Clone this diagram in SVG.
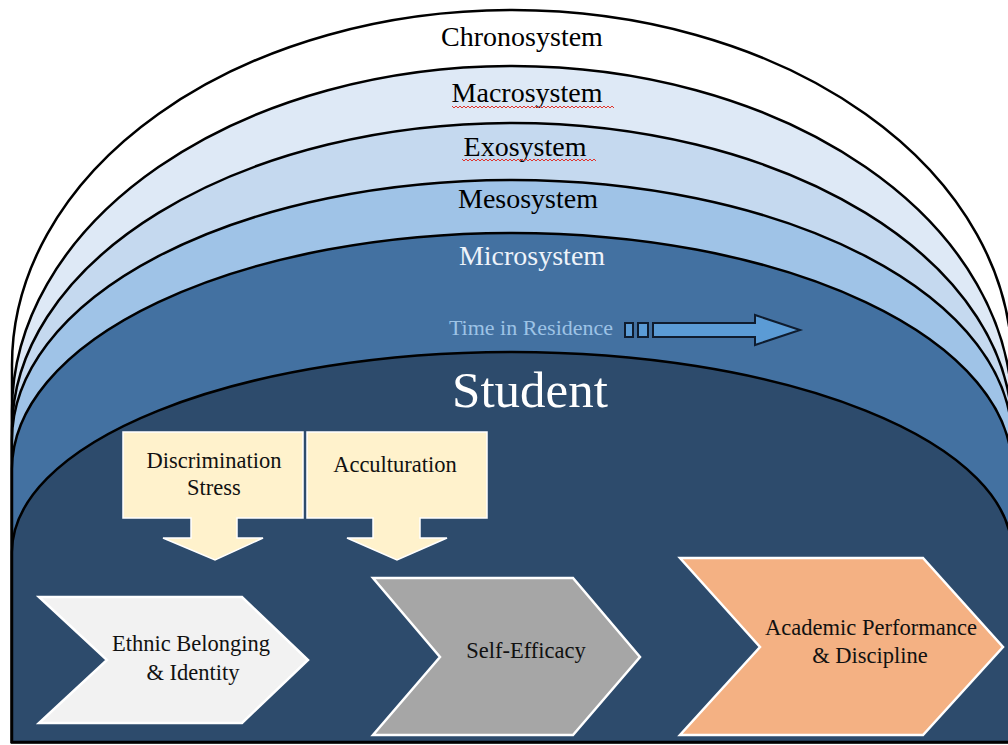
<svg xmlns="http://www.w3.org/2000/svg" width="1008" height="745" viewBox="0 0 1008 745">
  <style>
    .layer { stroke: #000000; stroke-width: 2.5; }
    .lbl { font-family: 'Liberation Serif', 'Times New Roman', serif; text-anchor: middle; }
    .sys { font-size: 28px; fill: #000000; }
    .callout { fill: #fff2cc; stroke: #ffffff; stroke-width: 1.5; }
    .chev { stroke: #ffffff; stroke-width: 2.5; }
    .box-txt { font-size: 22.5px; fill: #111111; }
    .squiggle { fill: none; stroke: #e0342c; stroke-width: 1; }
  </style>

  <rect width="1008" height="745" fill="#ffffff"/>

  <!-- Nested system layers, outermost first -->
  <g id="chronosystem">
    <path class="layer" fill="#ffffff" d="M12,742 L12,365 A500,355 0 0 1 1012,365 L1012,742 Z"/>
    <text class="lbl sys" x="522" y="46">Chronosystem</text>
  </g>
  <g id="macrosystem">
    <path class="layer" fill="#dee9f6" d="M12,742 L12,411 A500,345 0 0 1 1012,411 L1012,742 Z"/>
    <text class="lbl sys" x="527" y="102">Macrosystem</text>
    <path class="squiggle" d="M452,106 l2,2 l2,-2 l2,2 l2,-2 l2,2 l2,-2 l2,2 l2,-2 l2,2 l2,-2 l2,2 l2,-2 l2,2 l2,-2 l2,2 l2,-2 l2,2 l2,-2 l2,2 l2,-2 l2,2 l2,-2 l2,2 l2,-2 l2,2 l2,-2 l2,2 l2,-2 l2,2 l2,-2 l2,2 l2,-2 l2,2 l2,-2 l2,2 l2,-2 l2,2 l2,-2 l2,2 l2,-2 l2,2 l2,-2 l2,2 l2,-2 l2,2 l2,-2 l2,2 l2,-2 l2,2 l2,-2 l2,2 l2,-2 l2,2 l2,-2 l2,2 l2,-2 l2,2 l2,-2 l2,2 l2,-2 l2,2 l2,-2 l2,2 l2,-2 l2,2 l2,-2 l2,2 l2,-2 l2,2 l2,-2 l2,2 l2,-2 l2,2 l2,-2 l2,2 l2,-2 l2,2 l2,-2 l2,2 l2,-2 l2,2"/>
  </g>
  <g id="exosystem">
    <path class="layer" fill="#c5d9ef" d="M12,742 L12,430 A500,307 0 0 1 1012,430 L1012,742 Z"/>
    <text class="lbl sys" x="525" y="156">Exosystem</text>
    <path class="squiggle" d="M462,159 l2,2 l2,-2 l2,2 l2,-2 l2,2 l2,-2 l2,2 l2,-2 l2,2 l2,-2 l2,2 l2,-2 l2,2 l2,-2 l2,2 l2,-2 l2,2 l2,-2 l2,2 l2,-2 l2,2 l2,-2 l2,2 l2,-2 l2,2 l2,-2 l2,2 l2,-2 l2,2 l2,-2 l2,2 l2,-2 l2,2 l2,-2 l2,2 l2,-2 l2,2 l2,-2 l2,2 l2,-2 l2,2 l2,-2 l2,2 l2,-2 l2,2 l2,-2 l2,2 l2,-2 l2,2 l2,-2 l2,2 l2,-2 l2,2 l2,-2 l2,2 l2,-2 l2,2 l2,-2 l2,2 l2,-2 l2,2 l2,-2 l2,2 l2,-2 l2,2 l2,-2 l2,2"/>
  </g>
  <g id="mesosystem">
    <path class="layer" fill="#9fc3e7" d="M12,742 L12,440 A500,260 0 0 1 1012,440 L1012,742 Z"/>
    <text class="lbl sys" x="528" y="208">Mesosystem</text>
  </g>
  <g id="microsystem">
    <path class="layer" fill="#4371a1" d="M12,742 L12,469 A500,236 0 0 1 1012,469 L1012,742 Z"/>
    <text class="lbl sys" x="532" y="265" style="fill:#eef3fa">Microsystem</text>
    <text class="lbl" x="531" y="335" font-size="22" fill="#9dc3e6">Time in Residence</text>
  </g>
  <g id="time-arrow" fill="#5b9bd5" stroke="#0f1c2e" stroke-width="2">
    <rect x="625" y="323" width="8" height="14"/>
    <rect x="638" y="323" width="10" height="14"/>
    <path d="M653,323 H755 V315 L800,330 L755,345 V337 H653 Z"/>
  </g>
  <g id="student">
    <path class="layer" fill="#2d4b6c" d="M12,742 L12,552 A500,200 0 0 1 1012,552 L1012,742 Z"/>
    <text class="lbl" x="530" y="407" font-size="51" fill="#ffffff">Student</text>
  </g>

  <!-- Influences feeding into the student's pathway -->
  <g id="discrimination-stress">
    <path class="callout" d="M123,432 H303 V518 H237 V538 H263 L215,560 L163,538 H191 V518 H123 Z"/>
    <text class="lbl box-txt" x="214" y="468">Discrimination</text>
    <text class="lbl box-txt" x="214" y="495">Stress</text>
  </g>
  <g id="acculturation">
    <path class="callout" d="M307,432 H487 V518 H420 V538 H447 L397,560 L347,538 H373 V518 H307 Z"/>
    <text class="lbl box-txt" x="395" y="472">Acculturation</text>
  </g>

  <!-- Pathway chevrons -->
  <g id="ethnic-belonging">
    <path class="chev" fill="#f2f2f2" d="M39,597 H242 L308,660 L242,723 H39 L107,660 Z"/>
    <text class="lbl box-txt" x="191" y="651">Ethnic Belonging</text>
    <text class="lbl box-txt" x="193" y="680">&amp; Identity</text>
  </g>
  <g id="self-efficacy">
    <path class="chev" fill="#a6a6a6" d="M373,578 H573 L640,657 L573,735 H373 L440,657 Z"/>
    <text class="lbl box-txt" x="526" y="658">Self-Efficacy</text>
  </g>
  <g id="academic-performance">
    <path class="chev" fill="#f4b183" d="M680,558 H923 L1003,647 L923,735 H680 L760,647 Z"/>
    <text class="lbl box-txt" x="871" y="635">Academic Performance</text>
    <text class="lbl box-txt" x="870" y="663">&amp; Discipline</text>
  </g>

  <g id="connectors"/>
</svg>
